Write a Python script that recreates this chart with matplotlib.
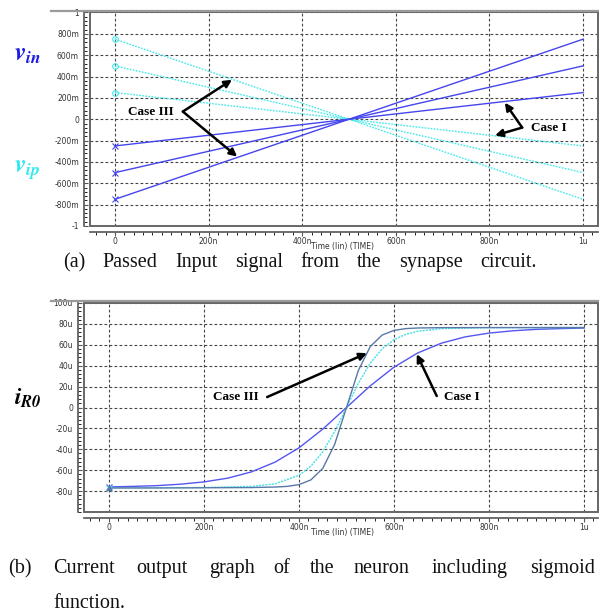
import matplotlib
matplotlib.use('Agg')
import matplotlib.pyplot as plt
from matplotlib.lines import Line2D
from matplotlib.patches import Rectangle
from matplotlib.ticker import MultipleLocator

plt.rcParams['mathtext.fontset'] = 'stix'

# panel (a): input ramps, volts, time in ns
t_ramp = [0, 1000]
vin_start = [-0.25, -0.5, -0.75]
vin_end = [0.25, 0.5, 0.75]
vip_start = [0.25, 0.5, 0.75]
vip_end = [-0.25, -0.5, -0.75]

# panel (b): neuron output current, uA
t_case1 = [0, 50, 100, 150, 200, 250, 300, 350, 400, 450, 500, 550, 600, 650, 700, 750, 800, 850, 900, 950, 1000]
i_case1 = [-76, -75.5, -74.8, -73.4, -71.2, -67.6, -61.6, -52.2, -38.6, -20.7, 0, 20.7, 38.6, 52.2, 61.6, 67.6, 71.2, 73.4, 74.8, 75.5, 76]
t_case2 = [0, 100, 200, 300, 350, 400, 425, 450, 475, 500, 525, 550, 575, 600, 625, 650, 700, 800, 1000]
i_case2 = [-76.8, -76.7, -76.6, -75.5, -73, -64.9, -56.2, -42.4, -23.2, 0, 23.2, 42.4, 56.2, 64.9, 70, 73, 75.5, 76.3, 76.5]
t_case3 = [0, 100, 200, 300, 350, 375, 400, 425, 450, 475, 500, 525, 550, 575, 600, 625, 650, 700, 800, 1000]
i_case3 = [-77, -77, -76.8, -76.6, -76.1, -75.5, -73.8, -69.3, -58.3, -35.4, 0, 35.4, 58.3, 69.3, 73.8, 75.5, 76.1, 76.4, 76.5, 76.5]

xticks = [0, 200, 400, 600, 800, 1000]
xtick_labels = ['0', '200n', '400n', '600n', '800n', '1u']
ya_ticks = [-1, -0.8, -0.6, -0.4, -0.2, 0, 0.2, 0.4, 0.6, 0.8, 1]
ya_labels = ['-1', '-800m', '-600m', '-400m', '-200m', '0', '200m', '400m', '600m', '800m', '1']
yb_ticks = [-80, -60, -40, -20, 0, 20, 40, 60, 80, 100]
yb_labels = ['-80u', '-60u', '-40u', '-20u', '0', '20u', '40u', '60u', '80u', '100u']

W, H = 599, 614
fig = plt.figure(figsize=(W / 100, H / 100), dpi=100)


def box(l, t, r, b):
    return [l / W, 1 - b / H, (r - l) / W, (b - t) / H]


def style(ax, xl, yl, yt, ytl, ymin):
    ax.set_xlim(*xl)
    ax.set_ylim(*yl)
    ax.set_xticks(xticks)
    ax.set_xticklabels(xtick_labels)
    ax.set_yticks(yt)
    ax.set_yticklabels(ytl)
    ax.xaxis.set_minor_locator(MultipleLocator(20))
    ax.yaxis.set_minor_locator(MultipleLocator(ymin))
    ax.grid(True, which='major', color='#444444', lw=0.8, ls=(0, (2.5, 2)))
    ax.tick_params(labelsize=5.5, labelcolor='#333333', color='#555555')
    ax.tick_params(axis='x', which='major', direction='out', length=3, pad=1)
    ax.tick_params(axis='x', which='minor', direction='out', length=2)
    ax.tick_params(axis='y', which='major', direction='in', length=3, pad=4)
    ax.tick_params(axis='y', which='minor', direction='in', length=2)
    for s in ['left', 'bottom']:
        ax.spines[s].set_position(('outward', 4))
        ax.spines[s].set_color('#555555')
        ax.spines[s].set_linewidth(1.2)
    ax.spines['top'].set_visible(False)
    ax.spines['right'].set_visible(False)
    ax.add_patch(Rectangle((0, 0), 1, 1, transform=ax.transAxes, fill=False,
                           ec='#666666', lw=1.4, clip_on=False, zorder=5))


# ---- panel (a)
ax1 = fig.add_axes(box(90, 12.5, 598, 226))
style(ax1, (-53.4, 1032), (-1, 1), ya_ticks, ya_labels, 0.04)
for a, b in zip(vip_start, vip_end):
    ax1.plot(t_ramp, [a, b], color='#40eaea', lw=1, ls=(0, (1.2, 1)))
    ax1.plot([t_ramp[0]], [a], marker='o', ms=4, mfc='none', mec='#40eaea', mew=0.8)
for a, b in zip(vin_start, vin_end):
    ax1.plot(t_ramp, [a, b], color='#4545ee', lw=1)
    ax1.plot([t_ramp[0]], [a], marker='x', ms=4, color='#4545ee', mew=0.8)

arr = dict(arrowstyle='-|>', lw=1.8, color='black', mutation_scale=11, shrinkA=0, shrinkB=0)
ax1.text(125, 0.072, 'Case III', ha='right', va='center', family='Liberation Serif',
         fontweight='bold', fontsize=9.5)
for tip in [(250, 0.37), (261, -0.35)]:
    ax1.annotate('', xy=tip, xytext=(145, 0.072), arrowprops=arr)
ax1.text(888, -0.078, 'Case I', ha='left', va='center', family='Liberation Serif',
         fontweight='bold', fontsize=9.5)
for tip in [(833, 0.155), (812, -0.152)]:
    ax1.annotate('', xy=tip, xytext=(870, -0.078), arrowprops=arr)

# ---- panel (b)
ax2 = fig.add_axes(box(84, 303, 598, 512))
style(ax2, (-52.6, 1029.5), (-100, 100), yb_ticks, yb_labels, 4)
ax2.plot(t_case1, i_case1, color='#5555f2', lw=1)
ax2.plot(t_case2, i_case2, color='#45e0e8', lw=1, ls=(0, (1.5, 0.8)))
ax2.plot(t_case3, i_case3, color='#5878a8', lw=1)
ax2.plot([0], [i_case1[0]], marker='x', ms=5, color='#5555f2', mew=0.9)
ax2.plot([0], [i_case2[0]], marker='x', ms=4, color='#45e0e8', mew=0.9)
ax2.plot([0], [i_case3[0]], marker='^', ms=3, color='#5878a8')

ax2.text(315, 10, 'Case III', ha='right', va='center', family='Liberation Serif',
         fontweight='bold', fontsize=9.5)
ax2.annotate('', xy=(543, 52), xytext=(333, 10), arrowprops=arr)
ax2.text(705, 10, 'Case I', ha='left', va='center', family='Liberation Serif',
         fontweight='bold', fontsize=9.5)
ax2.annotate('', xy=(648, 51), xytext=(690, 11), arrowprops=arr)

# window top bars
for y in [11, 301]:
    fig.add_artist(Line2D([51 / W, 1], [1 - y / H, 1 - y / H], color='#9a9a9a', lw=1.6))

# axis captions
fig.text(342 / W, 1 - 246 / H, 'Time (lin) (TIME)', fontsize=5.5, color='#333333', ha='center', va='center')
fig.text(342 / W, 1 - 533 / H, 'Time (lin) (TIME)', fontsize=5.5, color='#333333', ha='center', va='center')

fig.text(14 / W, 1 - 61 / H, r'$\mathbfit{v}_{\mathbfit{in}}$', color='#1a1ae0', fontsize=18, va='baseline')
fig.text(14 / W, 1 - 173 / H, r'$\mathbfit{v}_{\mathbfit{ip}}$', color='#30e8f0', fontsize=18, va='baseline')
fig.text(14 / W, 1 - 405 / H, r'$\mathbfit{i}_{\mathbfit{R0}}$', color='black', fontsize=17, va='baseline')

serif = dict(family='Liberation Serif', fontsize=14.5, color='#111111', va='baseline')

# caption (a), spread between x=63 and x=537
words_a = ['(a)', 'Passed', 'Input', 'signal', 'from', 'the', 'synapse', 'circuit.']
texts_a = [fig.text(0, 1 - 267 / H, w, **serif) for w in words_a]
renderer = fig.canvas.get_renderer()
widths = [t.get_window_extent(renderer).width for t in texts_a]
gap = (537 - 63 - sum(widths)) / (len(words_a) - 1)
x = 63
for t, w in zip(texts_a, widths):
    t.set_x(x / W)
    x += w + gap

words_b = ['(b)', 'Current', 'output', 'graph', 'of', 'the', 'neuron', 'including', 'sigmoid']
xs_b = [8, 53, 136, 209, 273, 310, 353, 432, 530]
for w, x in zip(words_b, xs_b):
    fig.text(x / W, 1 - 573 / H, w, **serif)
fig.text(53 / W, 1 - 608 / H, 'function.', **serif)

fig.savefig('out.png', dpi=100)
